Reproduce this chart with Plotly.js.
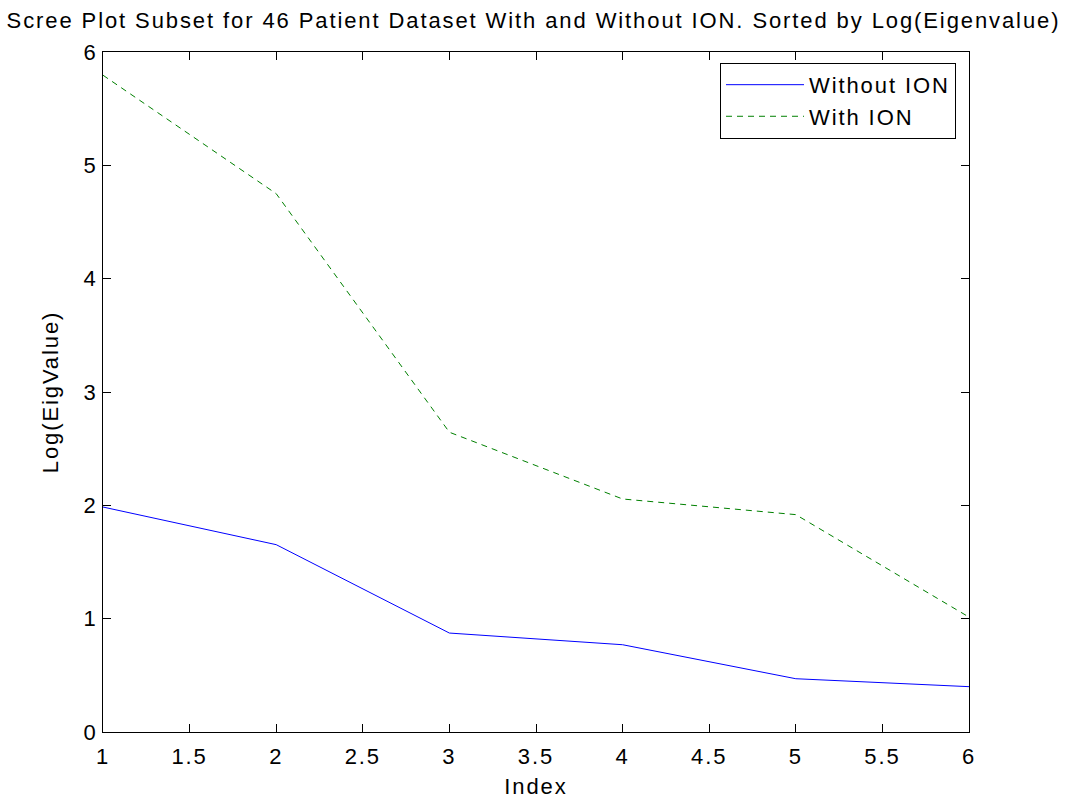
<!DOCTYPE html>
<html>
<head>
<meta charset="utf-8">
<script src="https://cdn.plot.ly/plotly-3.0.1.min.js"></script>
<style>
html,body{margin:0;padding:0;background:#fff;}
#chart{width:1067px;height:802px;}
svg text{letter-spacing:1.9px;}
</style>
</head>
<body>
<div id="chart"></div>
<script>
const indexValues = [1, 2, 3, 4, 5, 6];
const withoutION = [1.985, 1.653, 0.873, 0.770, 0.470, 0.400];
const withION = [5.795, 4.750, 2.645, 2.056, 1.918, 1.014];
const seriesNames = ["Without ION", "With ION"];
const xTicks = [1, 1.5, 2, 2.5, 3, 3.5, 4, 4.5, 5, 5.5, 6];
const yTicks = [0, 1, 2, 3, 4, 5, 6];

const fontFamily = "Liberation Sans, Arial, sans-serif";
const traces = [
  {x: indexValues, y: withoutION, name: seriesNames[0], type: "scatter", mode: "lines",
   line: {color: "#0000ff", width: 1}},
  {x: indexValues, y: withION, name: seriesNames[1], type: "scatter", mode: "lines",
   line: {color: "#008000", width: 1, dash: "6px,5px"}}
];
const layout = {
  width: 1067, height: 802,
  paper_bgcolor: "#ffffff", plot_bgcolor: "#ffffff",
  margin: {l: 103, r: 98, t: 52, b: 70, pad: 0},
  font: {family: fontFamily, size: 22, color: "#000"},
  title: {text: "Scree Plot Subset for 46 Patient Dataset With and Without ION. Sorted by Log(Eigenvalue)",
          font: {family: fontFamily, size: 22, color: "#000"}, x: 0.5, xanchor: "center", y: 0.975, yanchor: "middle"},
  xaxis: {range: [1, 6], tickvals: xTicks, ticktext: xTicks.map(String), ticks: "inside", ticklen: 8,
          tickcolor: "#000", showline: true, linecolor: "#000", linewidth: 1, mirror: "ticks",
          showgrid: false, zeroline: false, tickfont: {size: 22}, ticklabelstandoff: 5,
          title: {text: "Index", font: {size: 22}, standoff: 10}},
  yaxis: {range: [0, 6], tickvals: yTicks, ticktext: yTicks.map(String), ticks: "inside", ticklen: 8,
          tickcolor: "#000", showline: true, linecolor: "#000", linewidth: 1, mirror: "ticks",
          showgrid: false, zeroline: false, tickfont: {size: 22},
          title: {text: "Log(EigValue)", font: {size: 22}, standoff: 18}},
  legend: {x: 0.985, y: 0.984, xanchor: "right", yanchor: "top", bordercolor: "#000", borderwidth: 1,
           bgcolor: "#fff", font: {size: 22}, tracegroupgap: 0, itemwidth: 78},
  showlegend: true
};
Plotly.newPlot("chart", traces, layout, {displayModeBar: false, staticPlot: true});
</script>
</body>
</html>
